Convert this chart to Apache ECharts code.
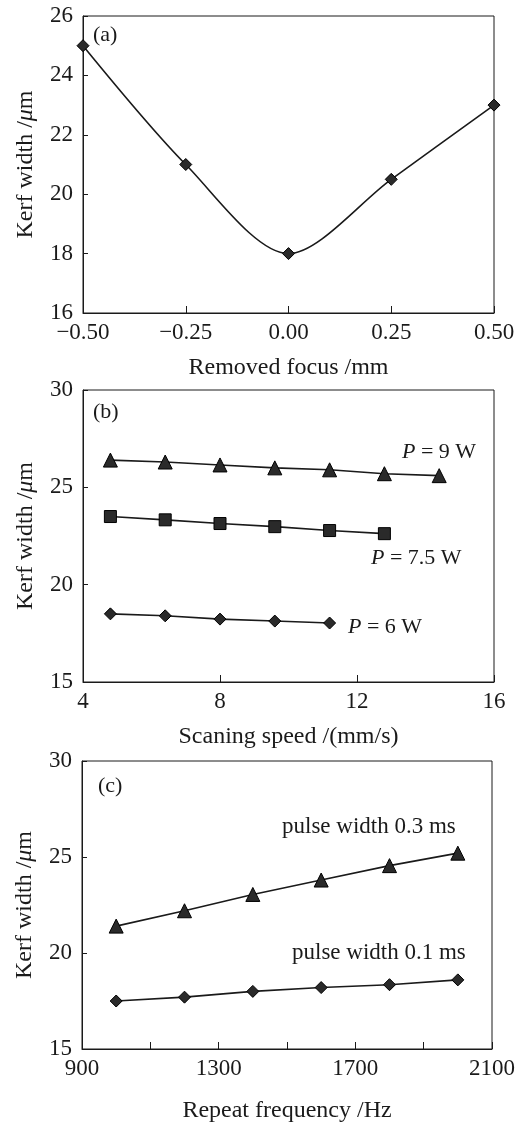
<!DOCTYPE html>
<html><head><meta charset="utf-8">
<script src="https://cdn.jsdelivr.net/npm/echarts@6/dist/echarts.min.js"></script>
<style>html,body{margin:0;padding:0;background:#fff}#c{width:529px;height:1124px}</style>
</head><body><div id="c"></div>
<script>
// Panel (a)
const focusX = [-0.5, -0.25, 0, 0.25, 0.5];
const focusKerf = [25, 21, 18, 20.5, 23];
// Panel (b)
const speedX = [4.8, 6.4, 8, 9.6, 11.2, 12.8, 14.4];
const kerfP9 = [26.4, 26.3, 26.15, 26.0, 25.9, 25.7, 25.6];
const kerfP75 = [23.5, 23.33, 23.14, 22.98, 22.78, 22.62];
const kerfP6 = [18.5, 18.4, 18.23, 18.13, 18.03];
// Panel (c)
const freqX = [1000, 1200, 1400, 1600, 1800, 2000];
const kerfPW03 = [21.4, 22.2, 23.05, 23.8, 24.55, 25.2];
const kerfPW01 = [17.5, 17.7, 18.0, 18.2, 18.35, 18.6];
const freqLabels = [900, 1300, 1700, 2100];

const FONT = '"Liberation Serif", "DejaVu Serif", serif';
const INK = '#1a1a1a';
const TICK = 23, NAME = 24;
const chart = echarts.init(document.getElementById('c'));

function zip(xs, ys) { return ys.map((y, i) => [xs[i], y]); }

function xAxis(grid, min, max, interval, name, gap, fmt) {
  return {
    type: 'value', gridIndex: grid, min, max, interval,
    name, nameLocation: 'middle', nameGap: gap,
    nameTextStyle: { fontFamily: FONT, fontSize: NAME, color: INK },
    axisLine: { show: true, onZero: false, lineStyle: { color: INK, width: 1 } },
    axisTick: { show: true, inside: true, length: 7, lineStyle: { color: INK } },
    axisLabel: { fontFamily: FONT, fontSize: TICK, color: INK, margin: 8, formatter: fmt },
    splitLine: { show: false }
  };
}
function yAxis(grid, min, max, interval) {
  return {
    type: 'value', gridIndex: grid, min, max, interval,
    name: 'Kerf width /{i|μ}m', nameLocation: 'middle', nameGap: 45,
    nameTextStyle: { fontFamily: FONT, fontSize: NAME, color: INK,
      rich: { i: { fontFamily: FONT, fontSize: NAME, fontStyle: 'italic', color: INK } } },
    axisLine: { show: true, onZero: false, lineStyle: { color: INK, width: 1 } },
    axisTick: { show: true, inside: true, length: 5, lineStyle: { color: INK } },
    axisLabel: { fontFamily: FONT, fontSize: TICK, color: INK, margin: 10 },
    splitLine: { show: false }
  };
}
function line(xi, data, symbol, size, smooth) {
  return {
    type: 'line', xAxisIndex: xi, yAxisIndex: xi, data,
    symbol, symbolSize: size, smooth: smooth || false, clip: false,
    showAllSymbol: true,
    lineStyle: { color: INK, width: 1.6 },
    itemStyle: { color: '#2a2a2a', borderColor: '#000', borderWidth: 1 },
    emphasis: { disabled: true }
  };
}
function txt(x, yc, text, size) {
  return { type: 'text', left: x, top: yc - Math.round(size / 2), style: {
    text, fontFamily: FONT, fontSize: size, fill: INK,
    rich: { i: { fontFamily: FONT, fontSize: size, fontStyle: 'italic', fill: INK } } } };
}

const border = { show: true, borderColor: INK, borderWidth: 1, backgroundColor: 'transparent' };

chart.setOption({
  animation: false,
  backgroundColor: '#fff',
  grid: [
    Object.assign({ left: 83, top: 16, width: 411, height: 297 }, border),
    Object.assign({ left: 83, top: 390, width: 411, height: 292 }, border),
    Object.assign({ left: 82, top: 761, width: 410, height: 290 }, border)
  ],
  xAxis: [
    xAxis(0, -0.5, 0.5, 0.25, 'Removed focus /mm', 43,
      v => (v < 0 ? '−' : '') + Math.abs(v).toFixed(2)),
    xAxis(1, 4, 16, 4, 'Scaning speed /(mm/s)', 43),
    xAxis(2, 900, 2100, 200, 'Repeat frequency /Hz', 50,
      v => freqLabels.includes(v) ? String(v) : '')
  ],
  yAxis: [yAxis(0, 16, 26, 2), yAxis(1, 15, 30, 5), yAxis(2, 15, 30, 5)],
  series: [
    line(0, zip(focusX, focusKerf), 'diamond', 12, 0.3),
    line(1, zip(speedX, kerfP9), 'triangle', 14),
    line(1, zip(speedX, kerfP75), 'rect', 12),
    line(1, zip(speedX, kerfP6), 'diamond', 12),
    line(2, zip(freqX, kerfPW03), 'triangle', 14),
    line(2, zip(freqX, kerfPW01), 'diamond', 12)
  ],
  graphic: [
    txt(93, 35, '(a)', 22),
    txt(93, 412, '(b)', 22),
    txt(98, 786, '(c)', 22),
    txt(402, 452, '{i|P} = 9 W', 22),
    txt(371, 558, '{i|P} = 7.5 W', 22),
    txt(348, 627, '{i|P} = 6 W', 22),
    txt(282, 827, 'pulse width 0.3 ms', 23),
    txt(292, 953, 'pulse width 0.1 ms', 23)
  ]
});
</script></body></html>
